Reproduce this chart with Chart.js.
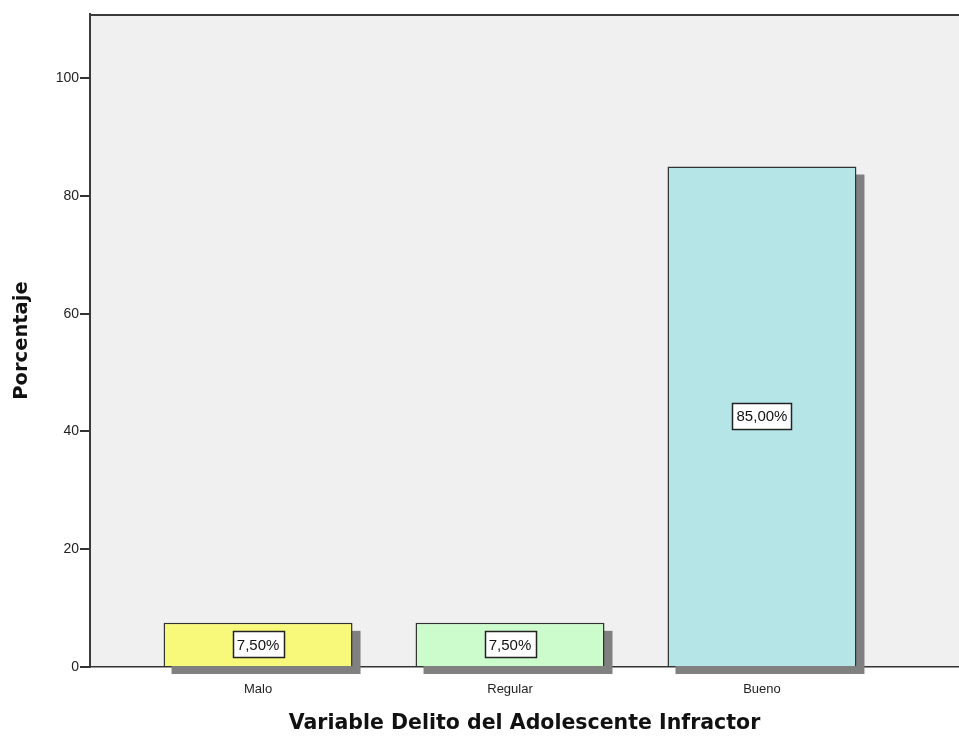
<!DOCTYPE html>
<html>
<head>
<meta charset="utf-8">
<script src="https://cdn.jsdelivr.net/npm/chart.js@4"></script>
<style>
  html, body { margin: 0; padding: 0; background: #fff; }
  #wrap { width: 959px; height: 736px; }
</style>
</head>
<body>
<div id="wrap"><canvas id="chart" width="959" height="736"></canvas></div>
<script>
const categories = ['Malo', 'Regular', 'Bueno'];
const percentages = [7.5, 7.5, 85.0];
const barColors = ['#f8f87a', '#ccfccc', '#b5e5e6'];
const yTicks = [0, 20, 40, 60, 80, 100];

const FONT = "'Liberation Sans', Arial, sans-serif";
const TITLE_FONT = "'DejaVu Sans', Verdana, sans-serif";

// format like 7,50%
const fmt = v => v.toFixed(2).replace('.', ',') + '%';

// drop shadows behind bars
const shadowPlugin = {
  id: 'shadowPlugin',
  beforeDatasetsDraw(chart) {
    const ctx = chart.ctx;
    const meta = chart.getDatasetMeta(0);
    ctx.save();
    ctx.fillStyle = '#808080';
    meta.data.forEach(bar => {
      const p = bar.getProps(['x', 'y', 'base', 'width'], true);
      ctx.fillRect(p.x - p.width / 2 + 8, p.y + 8, p.width, p.base - p.y);
    });
    ctx.restore();
  }
};

// plot background and top frame line
const backgroundPlugin = {
  id: 'backgroundPlugin',
  beforeDraw(chart) {
    const { ctx, chartArea } = chart;
    ctx.save();
    ctx.fillStyle = '#f0f0f0';
    ctx.fillRect(chartArea.left, chartArea.top, chartArea.right - chartArea.left, chartArea.bottom - chartArea.top);
    ctx.strokeStyle = '#3a3a3a';
    ctx.lineWidth = 2;
    ctx.beginPath();
    ctx.moveTo(chartArea.left, chartArea.top + 1);
    ctx.lineTo(chartArea.right, chartArea.top + 1);
    ctx.stroke();
    ctx.restore();
  }
};

// value boxes in the middle of each bar
const labelPlugin = {
  id: 'labelPlugin',
  afterDatasetsDraw(chart) {
    const ctx = chart.ctx;
    const meta = chart.getDatasetMeta(0);
    ctx.save();
    ctx.font = '15px ' + FONT;
    ctx.textAlign = 'center';
    ctx.textBaseline = 'middle';
    meta.data.forEach((bar, i) => {
      const p = bar.getProps(['x', 'y', 'base'], true);
      const cy = (p.y + p.base) / 2;
      const text = fmt(percentages[i]);
      const w = Math.round(ctx.measureText(text).width + 8);
      const h = 26;
      const bx = Math.round(p.x - w / 2) + 0.5;
      const by = Math.round(cy - h / 2) + 0.5;
      ctx.fillStyle = '#fff';
      ctx.fillRect(bx, by, w, h);
      ctx.strokeStyle = '#222';
      ctx.lineWidth = 1.5;
      ctx.strokeRect(bx, by, w, h);
      ctx.fillStyle = '#111';
      ctx.fillText(text, p.x, cy + 1);
    });
    ctx.restore();
  }
};

new Chart(document.getElementById('chart'), {
  type: 'bar',
  data: {
    datasets: [{
      data: percentages.map((v, i) => ({ x: i, y: v })),
      backgroundColor: barColors,
      borderColor: '#333',
      borderWidth: 1.5,
      categoryPercentage: 1,
      barPercentage: 0.75
    }]
  },
  options: {
    responsive: false,
    animation: false,
    layout: { padding: { top: 14, right: 0, left: 0, bottom: 0 } },
    plugins: {
      legend: { display: false },
      tooltip: { enabled: false }
    },
    scales: {
      x: {
        type: 'linear',
        offset: false,
        min: -0.667,
        max: 2.782,
        afterFit: s => { s.height = 69; },
        afterBuildTicks: s => { s.ticks = categories.map((c, i) => ({ value: i })); },
        ticks: {
          callback: v => categories[v],
          color: '#222',
          font: { family: FONT, size: 13 },
          padding: 11
        },
        grid: { display: true, offset: false, drawOnChartArea: false, tickLength: 4, color: '#555' },
        border: { display: true, color: '#333', width: 1.5 },
        title: {
          display: true,
          text: 'Variable Delito del Adolescente Infractor',
          color: '#111',
          font: { family: TITLE_FONT, size: 20.5, weight: 'bold' },
          padding: { top: 0, bottom: 0 }
        }
      },
      y: {
        min: 0,
        max: 110.9,
        afterFit: s => { s.width = 90; },
        afterBuildTicks: s => { s.ticks = yTicks.map(v => ({ value: v })); },
        ticks: {
          color: '#222',
          font: { family: FONT, size: 14 },
          padding: 1
        },
        grid: { display: true, drawOnChartArea: false, tickLength: 10, color: '#333', lineWidth: 2 },
        border: { display: true, color: '#3a3a3a', width: 2 },
        title: {
          display: true,
          text: 'Porcentaje',
          color: '#111',
          font: { family: TITLE_FONT, size: 19.5, weight: 'bold' },
          padding: { top: 10, bottom: 4 }
        }
      }
    }
  },
  plugins: [backgroundPlugin, shadowPlugin, labelPlugin]
});
</script>
</body>
</html>
